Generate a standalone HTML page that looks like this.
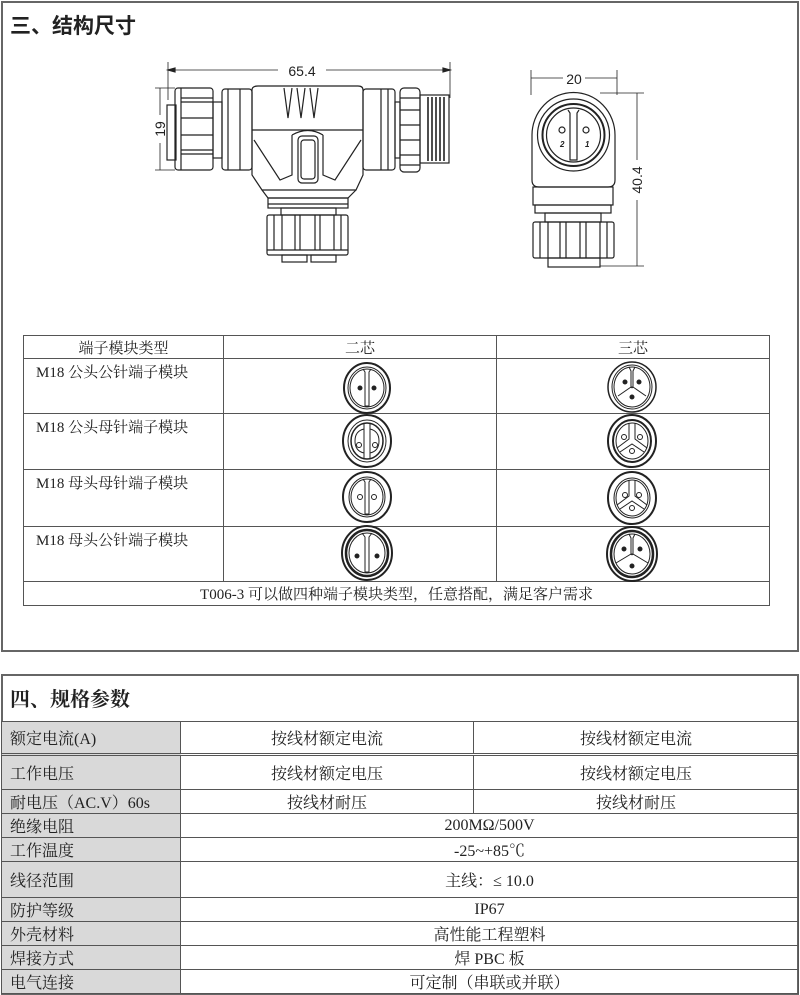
<!DOCTYPE html>
<html><head><meta charset="utf-8"><style>
html,body{margin:0;padding:0;background:#fff;}
body{width:800px;height:995px;position:relative;overflow:hidden;font-family:"Liberation Serif","Noto Serif CJK SC",serif;color:#222;}
.box{position:absolute;border:2px solid #666;box-sizing:border-box;}
.t{position:absolute;white-space:nowrap;}
table{border-collapse:collapse;position:absolute;}
td{border:1px solid #555;padding:0;font-size:15px;}
</style></head><body>
<div class="box" style="left:1px;top:1px;width:798px;height:651px;"></div>
<div class="t" style="left:10px;top:10px;font-size:21px;font-weight:bold;font-family:'Liberation Sans','Noto Sans CJK SC',sans-serif;">三、结构尺寸</div>

<svg width="800" height="300" style="position:absolute;left:0;top:0" fill="none" stroke="#222" stroke-width="1.2">
<line x1="168" y1="62" x2="168" y2="100" stroke-width="0.8"/><line x1="450" y1="62" x2="450" y2="98" stroke-width="0.8"/>
<line x1="168" y1="70" x2="278" y2="70" stroke-width="0.8"/><line x1="326" y1="70" x2="450" y2="70" stroke-width="0.8"/>
<polygon points="168,70 175,68 175,72" fill="#222"/><polygon points="450,70 443,68 443,72" fill="#222"/>
<text x="302" y="76" font-size="14" fill="#222" stroke="none" text-anchor="middle" font-family="Liberation Sans,sans-serif">65.4</text>
<line x1="155" y1="88" x2="175" y2="88" stroke-width="0.8"/><line x1="155" y1="170" x2="175" y2="170" stroke-width="0.8"/>
<line x1="160" y1="88" x2="160" y2="115" stroke-width="0.8"/><line x1="160" y1="143" x2="160" y2="170" stroke-width="0.8"/>
<text x="0" y="0" font-size="14" fill="#222" stroke="none" text-anchor="middle" font-family="Liberation Sans,sans-serif" transform="translate(165,129) rotate(-90)">19</text>
<rect x="167" y="105" width="9" height="55"/>
<rect x="175" y="88" width="38" height="82" rx="3"/>
<line x1="181" y1="88" x2="181" y2="170"/>
<line x1="181" y1="102" x2="213" y2="102"/><line x1="181" y1="118" x2="213" y2="118"/><line x1="181" y1="135" x2="213" y2="135"/><line x1="181" y1="150" x2="213" y2="150"/>
<line x1="181" y1="98" x2="213" y2="98"/><line x1="181" y1="154" x2="213" y2="154"/>
<rect x="213" y="102" width="9" height="56"/>
<rect x="222" y="89" width="30" height="81" rx="3"/>
<line x1="228" y1="89" x2="228" y2="170"/><line x1="240" y1="89" x2="240" y2="170"/>
<path d="M252 90 Q252 86 258 86 L358 86 Q363 86 363 90 L363 175 L356 190 L262 190 L252 175 Z"/>
<line x1="252" y1="130" x2="363" y2="130"/>
<path d="M284 88 L288 118 L292 88 M297 88 L301 118 L305 88 M310 88 L314 118 L318 88"/>
<path d="M254 140 L280 180 L292 175 L292 135 M361 140 L335 180 L323 175 L323 135"/>
<path d="M292 135 Q308 126 323 135"/>
<rect x="298" y="136" width="20" height="47" rx="4"/><rect x="301" y="140" width="14" height="39" rx="3"/>
<path d="M262 190 L268 198 L348 198 L356 190"/>
<rect x="268" y="198" width="80" height="10"/><line x1="268" y1="204" x2="348" y2="204"/>
<rect x="281" y="208" width="55" height="7"/>
<rect x="267" y="215" width="81" height="40" rx="2"/>
<line x1="267" y1="250" x2="348" y2="250"/>
<line x1="274" y1="215" x2="274" y2="250"/><line x1="282" y1="215" x2="282" y2="250"/><line x1="295" y1="215" x2="295" y2="250"/><line x1="300" y1="215" x2="300" y2="250"/><line x1="315" y1="215" x2="315" y2="250"/><line x1="320" y1="215" x2="320" y2="250"/><line x1="334" y1="215" x2="334" y2="250"/><line x1="341" y1="215" x2="341" y2="250"/>
<rect x="282" y="255" width="25" height="7"/><rect x="311" y="255" width="25" height="7"/>
<rect x="363" y="89" width="32" height="81" rx="3"/>
<line x1="381" y1="89" x2="381" y2="170"/><line x1="388" y1="89" x2="388" y2="170"/>
<rect x="395" y="102" width="5" height="56"/>
<rect x="400" y="88" width="20" height="84" rx="4"/>
<line x1="400" y1="98" x2="420" y2="98"/><line x1="400" y1="110" x2="420" y2="110"/><line x1="400" y1="125" x2="420" y2="125"/><line x1="400" y1="140" x2="420" y2="140"/><line x1="400" y1="155" x2="420" y2="155"/><line x1="400" y1="165" x2="420" y2="165"/>
<rect x="420" y="95" width="29" height="68"/>
<g stroke-width="1.6"><line x1="428" y1="97" x2="428" y2="161"/><line x1="432" y1="97" x2="432" y2="161"/><line x1="436" y1="97" x2="436" y2="161"/><line x1="440" y1="97" x2="440" y2="161"/><line x1="444" y1="97" x2="444" y2="161"/></g>

<line x1="531" y1="70" x2="531" y2="95" stroke-width="0.8"/><line x1="617" y1="70" x2="617" y2="95" stroke-width="0.8"/>
<line x1="531" y1="78" x2="563" y2="78" stroke-width="0.8"/><line x1="585" y1="78" x2="617" y2="78" stroke-width="0.8"/>
<text x="574" y="84" font-size="14" fill="#222" stroke="none" text-anchor="middle" font-family="Liberation Sans,sans-serif">20</text>
<line x1="600" y1="93" x2="644" y2="93" stroke-width="0.8"/><line x1="600" y1="266" x2="644" y2="266" stroke-width="0.8"/>
<line x1="637" y1="93" x2="637" y2="160" stroke-width="0.8"/><line x1="637" y1="200" x2="637" y2="266" stroke-width="0.8"/>
<text x="0" y="0" font-size="14" fill="#222" stroke="none" text-anchor="middle" font-family="Liberation Sans,sans-serif" transform="translate(642,180) rotate(-90)">40.4</text>
<path d="M532 135 A41 42 0 0 1 615 135 L615 180 Q615 187 608 187 L539 187 Q532 187 532 180 Z"/>
<circle cx="573.5" cy="135" r="36"/><circle cx="573.5" cy="135" r="31" stroke-width="2"/><circle cx="573.5" cy="135" r="27"/>
<path d="M568 110 L570 113 L570 160 L577 160 L577 113 L579 110"/>
<circle cx="562" cy="130" r="3"/><circle cx="586" cy="130" r="3"/>
<text x="560" y="147" font-size="8" fill="#222" stroke="none" font-weight="bold" font-style="italic" font-family="Liberation Sans,sans-serif">2</text>
<text x="585" y="147" font-size="8" fill="#222" stroke="none" font-weight="bold" font-style="italic" font-family="Liberation Sans,sans-serif">1</text>
<rect x="533" y="187" width="80" height="18"/><rect x="535" y="205" width="76" height="8"/>
<rect x="545" y="213" width="56" height="9"/>
<rect x="533" y="222" width="81" height="36" rx="2"/>
<line x1="540" y1="222" x2="540" y2="258"/><line x1="548" y1="222" x2="548" y2="258"/><line x1="560" y1="222" x2="560" y2="258"/><line x1="566" y1="222" x2="566" y2="258"/><line x1="580" y1="222" x2="580" y2="258"/><line x1="586" y1="222" x2="586" y2="258"/><line x1="600" y1="222" x2="600" y2="258"/><line x1="607" y1="222" x2="607" y2="258"/>
<rect x="548" y="258" width="52" height="9"/>
</svg>

<table style="left:23px;top:335px;width:747px;">
<tr style="height:23px"><td style="width:199px;text-align:center">端子模块类型</td><td style="width:272px;text-align:center">二芯</td><td style="text-align:center">三芯</td></tr>
<tr style="height:55px"><td style="vertical-align:top;padding-left:12px;padding-top:2px">M18 公头公针端子模块</td><td></td><td></td></tr>
<tr style="height:56px"><td style="vertical-align:top;padding-left:12px;padding-top:2px">M18 公头母针端子模块</td><td></td><td></td></tr>
<tr style="height:57px"><td style="vertical-align:top;padding-left:12px;padding-top:2px">M18 母头母针端子模块</td><td></td><td></td></tr>
<tr style="height:55px"><td style="vertical-align:top;padding-left:12px;padding-top:2px">M18 母头公针端子模块</td><td></td><td></td></tr>
<tr style="height:24px"><td colspan="3" style="text-align:center">T006-3 可以做四种端子模块类型，任意搭配，满足客户需求</td></tr>
</table>

<svg width="800" height="620" style="position:absolute;left:0;top:0" fill="none" stroke="#222">
<g transform="translate(367,388)"><ellipse rx="23" ry="25" stroke-width="2"/><ellipse rx="19" ry="21"/><ellipse rx="17" ry="19"/><path d="M-4 -19 L-2 -16 L-2 18 L2 18 L2 -16 L4 -19"/><circle cx="-7" cy="0" r="2" fill="#222"/><circle cx="7" cy="0" r="2" fill="#222"/></g>
<g transform="translate(367,441)"><ellipse rx="24" ry="26" stroke-width="2"/><ellipse rx="19" ry="21"/><ellipse rx="16" ry="18" stroke-width="1.5"/><path d="M-3 -17 L-3 17 M3 -17 L3 17 M-3 -12 Q-12 -10 -12 0 Q-12 10 -3 12 M3 -12 Q12 -10 12 0 Q12 10 3 12"/><circle cx="-8" cy="4" r="2.5"/><circle cx="8" cy="4" r="2.5"/></g>
<g transform="translate(367,497)"><ellipse rx="24" ry="25" stroke-width="2"/><ellipse rx="18" ry="20"/><ellipse rx="16" ry="18"/><path d="M-4 -18 L-2 -15 L-2 17 L2 17 L2 -15 L4 -18"/><circle cx="-7" cy="0" r="2.5"/><circle cx="7" cy="0" r="2.5"/></g>
<g transform="translate(367,553)"><ellipse rx="25" ry="27" stroke-width="2"/><ellipse rx="21" ry="23" stroke-width="2.5"/><ellipse rx="18" ry="20"/><path d="M-5 -20 L-2 -16 L-2 19 L2 19 L2 -16 L5 -20"/><circle cx="-10" cy="3" r="2" fill="#222"/><circle cx="10" cy="3" r="2" fill="#222"/></g>
<g transform="translate(632,387)"><ellipse rx="24" ry="25" stroke-width="1.5"/><ellipse rx="20" ry="22"/><ellipse rx="18" ry="20"/><path d="M-3 -20 L-1 -16 L-1 0 L-14 9 M3 -20 L1 -16 L1 0 L14 9 M-1 1 L0 0 L1 1"/><circle cx="-7" cy="-5" r="2" fill="#222"/><circle cx="7" cy="-5" r="2" fill="#222"/><circle cx="0" cy="10" r="2" fill="#222"/></g>
<g transform="translate(632,441)"><ellipse rx="24" ry="26" stroke-width="2"/><ellipse rx="19" ry="21" stroke-width="2"/><ellipse rx="16" ry="18"/><path d="M-3 -18 L-3 -2 L-15 7 M3 -18 L3 -2 L15 7 M-12 11 L0 3 L12 11"/><circle cx="-8" cy="-4" r="2.5"/><circle cx="8" cy="-4" r="2.5"/><circle cx="0" cy="10" r="2.5"/></g>
<g transform="translate(632,498)"><ellipse rx="24" ry="26" stroke-width="2"/><ellipse rx="18" ry="20"/><ellipse rx="16" ry="18"/><path d="M-3 -18 L-3 -2 L-15 7 M3 -18 L3 -2 L15 7 M-12 11 L0 3 L12 11"/><circle cx="-7" cy="-3" r="2.5"/><circle cx="7" cy="-3" r="2.5"/><circle cx="0" cy="10" r="2.5"/></g>
<g transform="translate(632,554)"><ellipse rx="25" ry="27" stroke-width="2"/><ellipse rx="21" ry="23" stroke-width="2.5"/><ellipse rx="18" ry="20"/><path d="M-3 -20 L-1 -16 L-1 0 L-16 9 M3 -20 L1 -16 L1 0 L16 9 M-1 1 L0 0 L1 1"/><circle cx="-8" cy="-5" r="2" fill="#222"/><circle cx="8" cy="-5" r="2" fill="#222"/><circle cx="0" cy="12" r="2" fill="#222"/></g>
</svg>

<div class="box" style="left:1px;top:674px;width:798px;height:321px;"></div>
<div class="t" style="left:10px;top:683px;font-size:20px;font-weight:bold;font-family:'Liberation Serif','Noto Serif CJK SC',serif;">四、规格参数</div>
<table style="left:1px;top:721px;width:798px;font-size:16px;">
<colgroup><col style="width:179px"><col style="width:293px"><col></colgroup>
<tr style="height:33px"><td style="background:#d9d9d9;padding-left:8px;font-size:16px">额定电流(A)</td><td style="text-align:center;font-size:16px">按线材额定电流</td><td style="text-align:center;font-size:16px">按线材额定电流</td></tr>
<tr style="height:35px"><td style="background:#d9d9d9;padding-left:8px;font-size:16px;border-top:3px double #555">工作电压</td><td style="text-align:center;font-size:16px;border-top:3px double #555">按线材额定电压</td><td style="text-align:center;font-size:16px;border-top:3px double #555">按线材额定电压</td></tr>
<tr style="height:24px"><td style="background:#d9d9d9;padding-left:8px;font-size:16px">耐电压（AC.V）60s</td><td style="text-align:center;font-size:16px">按线材耐压</td><td style="text-align:center;font-size:16px">按线材耐压</td></tr>
<tr style="height:23px"><td style="background:#d9d9d9;padding-left:8px;font-size:16px">绝缘电阻</td><td colspan="2" style="text-align:center;font-size:16px">200MΩ/500V</td></tr>
<tr style="height:24px"><td style="background:#d9d9d9;padding-left:8px;font-size:16px">工作温度</td><td colspan="2" style="text-align:center;font-size:16px">-25~+85℃</td></tr>
<tr style="height:36px"><td style="background:#d9d9d9;padding-left:8px;font-size:16px">线径范围</td><td colspan="2" style="text-align:center;font-size:16px">主线：≤ 10.0</td></tr>
<tr style="height:24px"><td style="background:#d9d9d9;padding-left:8px;font-size:16px">防护等级</td><td colspan="2" style="text-align:center;font-size:16px">IP67</td></tr>
<tr style="height:24px"><td style="background:#d9d9d9;padding-left:8px;font-size:16px">外壳材料</td><td colspan="2" style="text-align:center;font-size:16px">高性能工程塑料</td></tr>
<tr style="height:24px"><td style="background:#d9d9d9;padding-left:8px;font-size:16px">焊接方式</td><td colspan="2" style="text-align:center;font-size:16px">焊 PBC 板</td></tr>
<tr style="height:23px"><td style="background:#d9d9d9;padding-left:8px;font-size:16px">电气连接</td><td colspan="2" style="text-align:center;font-size:16px">可定制（串联或并联）</td></tr>
</table>
</body></html>
